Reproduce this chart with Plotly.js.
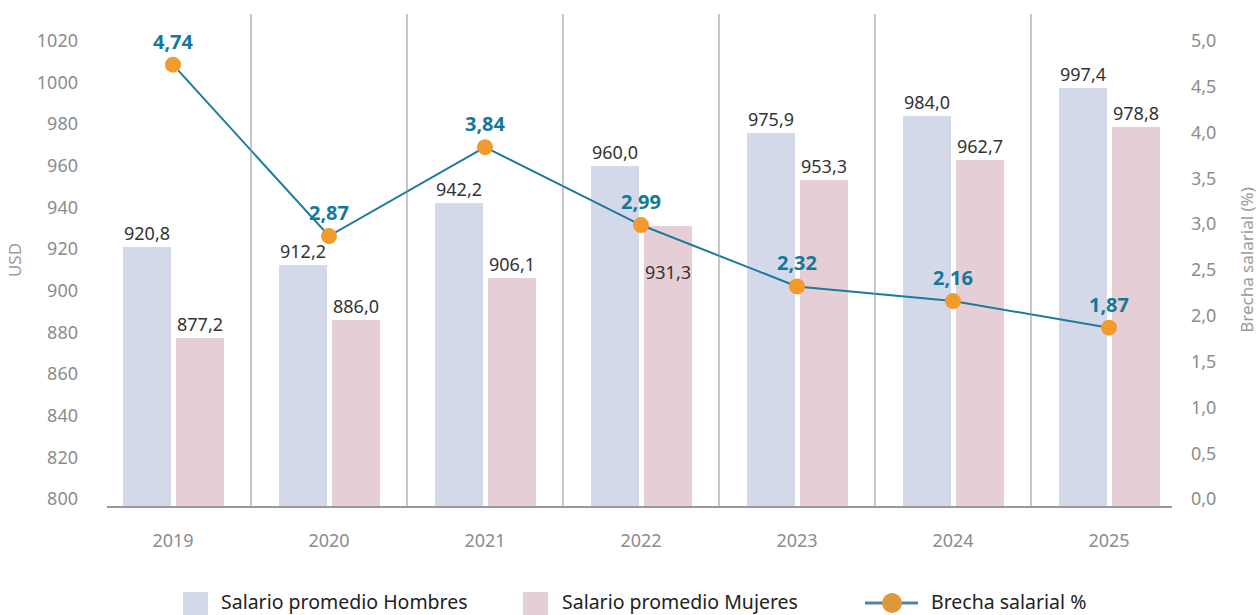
<!DOCTYPE html>
<html>
<head>
<meta charset="utf-8">
<script src="https://cdn.plot.ly/plotly-3.0.1.min.js"></script>
<style>html,body{margin:0;padding:0;background:#fff;}#chart{width:1258px;height:615px;}</style>
</head>
<body>
<div id="chart"></div>
<script>
const years = ["2019", "2020", "2021", "2022", "2023", "2024", "2025"];
const salarioHombres = [920.8, 912.2, 942.2, 960.0, 975.9, 984.0, 997.4];
const salarioMujeres = [877.2, 886.0, 906.1, 931.3, 953.3, 962.7, 978.8];
const brecha = [4.74, 2.87, 3.84, 2.99, 2.32, 2.16, 1.87];
const leftTicks = [800, 820, 840, 860, 880, 900, 920, 940, 960, 980, 1000, 1020];
const rightTicks = [0, 0.5, 1, 1.5, 2, 2.5, 3, 3.5, 4, 4.5, 5];

const FONT = "Noto Sans, Open Sans, sans-serif";
const fmt1 = v => v.toFixed(1).replace('.', ',');
const fmt2 = v => v.toFixed(2).replace('.', ',');
const idx = years.map((_, i) => i);

// geometry helpers (pixel -> paper)
const L = 107, R = 1172, T = 14, B = 506;
const pxX = x => (x - L) / (R - L);
const pxY = y => (B - y) / (B - T);

const BW = 0.3077, OFF_H = -0.3205, OFF_M = 0.0192;
const colH = "#d4d9ea", colM = "#e6ced6";
const teal = "#1a7b9c", orange = "#f29a2c";

const traces = [
  {type: "bar", x: idx, y: salarioHombres, name: "Salario promedio Hombres",
   marker: {color: colH}, width: BW, offset: OFF_H, hoverinfo: "y", showlegend: false},
  {type: "bar", x: idx, y: salarioMujeres, name: "Salario promedio Mujeres",
   marker: {color: colM}, width: BW, offset: OFF_M, hoverinfo: "y", showlegend: false},
  {type: "scatter", mode: "lines+markers+text", x: idx, y: brecha, yaxis: "y2",
   name: "Brecha salarial %", line: {color: teal, width: 2},
   marker: {color: orange, size: 16},
   text: brecha.map(fmt2), textposition: "top center", cliponaxis: false,
   textfont: {family: FONT, size: 20, color: "#14789a", weight: "bold"},
   showlegend: false}
];

const annotations = [];
salarioHombres.forEach((v, i) => annotations.push({
  x: i + OFF_H + BW / 2, y: v, xref: "x", yref: "y", text: fmt1(v), showarrow: false,
  yanchor: "middle", yshift: 14, font: {family: FONT, size: 18, color: "#333"}
}));
salarioMujeres.forEach((v, i) => annotations.push({
  x: i + OFF_M + BW / 2, y: v, xref: "x", yref: "y", text: fmt1(v), showarrow: false,
  yanchor: "middle", yshift: (i === 3 ? -46 : 14), font: {family: FONT, size: 18, color: "#333"}
}));

// custom legend
const legY = 601;
const legendItems = [
  {text: "Salario promedio Hombres", x: 219},
  {text: "Salario promedio Mujeres", x: 560},
  {text: "Brecha salarial %", x: 929}
];
legendItems.forEach(it => annotations.push({
  x: pxX(it.x), y: pxY(legY), xref: "paper", yref: "paper", text: it.text, showarrow: false,
  xanchor: "left", yanchor: "middle", font: {family: FONT, size: 19.5, color: "#222"}
}));

const shapes = [];
for (let i = 0; i < years.length - 1; i++) {
  shapes.push({type: "line", xref: "x", yref: "paper", x0: i + 0.5, x1: i + 0.5, y0: 0, y1: 1,
    line: {color: "#8c8c8c", width: 1}});
}
shapes.push({type: "rect", xref: "paper", yref: "paper", x0: pxX(183), x1: pxX(208), y0: pxY(617), y1: pxY(592),
  fillcolor: colH, line: {width: 0}});
shapes.push({type: "rect", xref: "paper", yref: "paper", x0: pxX(523), x1: pxX(548), y0: pxY(617), y1: pxY(592),
  fillcolor: colM, line: {width: 0}});
shapes.push({type: "line", xref: "paper", yref: "paper", x0: pxX(865), x1: pxX(918), y0: pxY(603), y1: pxY(603),
  line: {color: "#4a86a8", width: 3}});
shapes.push({type: "circle", xref: "paper", yref: "paper", x0: pxX(882), x1: pxX(902), y0: pxY(613), y1: pxY(593),
  fillcolor: "#e0963a", line: {width: 0}});

const layout = {
  width: 1258, height: 615,
  margin: {l: L, r: 1258 - R, t: T, b: 615 - B},
  paper_bgcolor: "#fff", plot_bgcolor: "#fff",
  separators: ",.",
  font: {family: FONT, color: "#8c8c8c"},
  showlegend: false,
  xaxis: {
    range: [-0.423, 6.404], tickvals: idx, ticktext: years, showgrid: false, zeroline: false,
    showline: true, linecolor: "#999", linewidth: 1.5, ticks: "", ticklabelstandoff: 18,
    tickfont: {family: FONT, size: 18, color: "#8c8c8c"}, fixedrange: true
  },
  yaxis: {
    range: [796.6, 1032.9], tickvals: leftTicks, showgrid: false, zeroline: false,
    showline: false, ticks: "", ticklabelstandoff: 28,
    tickfont: {family: FONT, size: 18, color: "#8c8c8c"},
    title: {text: "USD", font: {family: FONT, size: 17, color: "#9a9a9a"}, standoff: 10}
  },
  yaxis2: {
    overlaying: "y", side: "right", range: [-0.0764, 5.2933], tickvals: rightTicks,
    tickformat: ".1f", showgrid: false, zeroline: false, showline: false, ticks: "",
    ticklabelstandoff: 18, tickfont: {family: FONT, size: 18, color: "#8c8c8c"},
    title: {text: "Brecha salarial (%)", font: {family: FONT, size: 17, color: "#9a9a9a"}, standoff: 26}
  },
  bargap: 0, annotations: annotations, shapes: shapes
};

Plotly.newPlot("chart", traces, layout, {displayModeBar: false, staticPlot: true});
</script>
</body>
</html>
